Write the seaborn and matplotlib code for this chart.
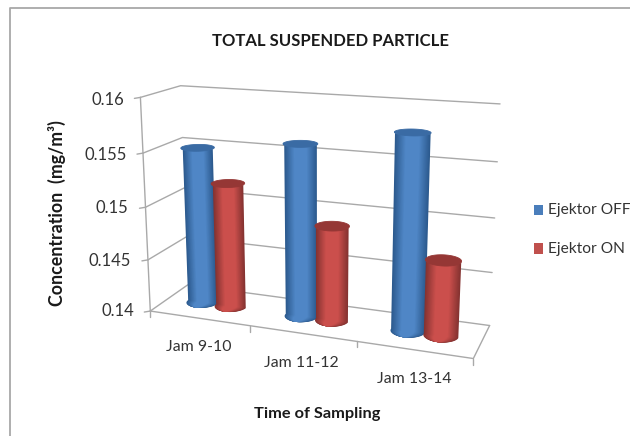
import numpy as np
import seaborn as sns
import matplotlib
matplotlib.use('Agg')
import matplotlib.pyplot as plt
from matplotlib.patches import Polygon, Rectangle

categories = ['Jam 9-10', 'Jam 11-12', 'Jam 13-14']
ejektor_off = [0.1550, 0.1561, 0.1578]
ejektor_on = [0.1519, 0.1489, 0.1469]
y_ticks = [0.14, 0.145, 0.15, 0.155, 0.16]
y_labels = ['0.14', '0.145', '0.15', '0.155', '0.16']

sns.set_style('white')
plt.rcParams['font.family'] = ['Lato', 'DejaVu Sans']

# 3d box corners (category, depth, level) and where they land in the image
box = [(0, 0, 0), (3, 0, 0), (0, 1, 0), (3, 1, 0), (0, 0, 1), (0, 1, 1), (3, 1, 1)]
img = [(151, 311), (473, 359), (187, 285), (490, 325), (140, 97), (181, 86), (500, 104)]
rows = []
for (a, b, c), (px, py) in zip(box, img):
    rows.append([a, b, c, 1, 0, 0, 0, 0, -px * a, -px * b, -px * c, -px])
    rows.append([0, 0, 0, 0, a, b, c, 1, -py * a, -py * b, -py * c, -py])
P = np.linalg.svd(np.array(rows, float))[2][-1].reshape(3, 4)


def project(u, d, v):
    u, d, v = np.broadcast_arrays(u, d, v)
    q = P @ np.vstack([u.ravel(), d.ravel(), v.ravel(), np.ones(u.size)])
    return q[0] / q[2], q[1] / q[2]


def level(val):
    return (val - y_ticks[0]) / (y_ticks[-1] - y_ticks[0])


def line3d(ax, us, ds, vs, lw=1.0):
    x, y = project(np.array(us, float), np.array(ds, float), np.array(vs, float))
    sns.lineplot(x=x, y=y, sort=False, estimator=None, color='#a9a9a9', linewidth=lw, ax=ax, legend=False)


def cylinder(ax, u, val, edge, mid, top, rad_u=0.152, rad_d=0.2, depth=0.5):
    v = level(val)
    angles = np.linspace(np.pi, 2 * np.pi, 61)
    # nested shells from the rim inwards give the round shading
    scales = np.linspace(1, 0.4, 14)
    shades = sns.blend_palette([edge, mid], 14)
    for s, col in zip(scales, shades):
        cu = u + s * rad_u * np.cos(angles)
        cd = depth + (0.97 + 0.03 * s) * rad_d * np.sin(angles)
        bx, by = project(cu, cd, 0.0)
        tx, ty = project(cu, cd, v)
        ax.add_patch(Polygon(np.r_[np.c_[bx, by], np.c_[tx, ty][::-1]], facecolor=col, lw=0, zorder=3))
    whole = np.linspace(0, 2 * np.pi, 60)
    ex, ey = project(u + rad_u * np.cos(whole), depth + rad_d * np.sin(whole), v)
    ax.add_patch(Polygon(np.c_[ex, ey], facecolor=top, edgecolor=top, lw=0.6, zorder=3))


fig = plt.figure(figsize=(6.3, 4.36), dpi=100)
ax = fig.add_axes([0, 0, 1, 1])
ax.set_xlim(0, 630)
ax.set_ylim(436, 0)
ax.axis('off')

# chart frame, cut off at the bottom and right of the screenshot
ax.plot([10, 10, 630], [436, 8, 8], color='#a8a8a8', lw=1.3)

# walls, floor and ticks
for t in y_ticks:
    v = level(t)
    line3d(ax, [0, 0, 3], [0, 1, 1], [v, v, v])
    x0, y0 = project(0.0, 0.0, v)
    ax.plot([x0 - 6, x0], [y0 + 1, y0], color='#a9a9a9', lw=1)
line3d(ax, [0, 0], [0, 0], [0, 1])
line3d(ax, [0, 3, 3], [0, 0, 1], [0, 0, 0])
for i in range(4):
    x0, y0 = project(float(i), 0.0, 0.0)
    ax.plot([x0, x0], [y0, y0 + 6], color='#a9a9a9', lw=1)

for i in range(len(categories)):
    cylinder(ax, i + 0.35, ejektor_off[i], '#2c5a8e', '#4f86c6', '#3a6ba4')
    cylinder(ax, i + 0.645, ejektor_on[i], '#853331', '#cb4f4c', '#953735')

title_font = dict(fontweight='bold', color='#1a1a1a', ha='center', va='center')
ax.text(330, 41, 'TOTAL SUSPENDED PARTICLE', fontsize=12, **title_font)
ax.text(317, 414, 'Time of Sampling', fontsize=11.8, **title_font)
ax.text(57, 213, 'Concentration  (mg/m³)', fontsize=12.8, rotation=90, **title_font)

tick_x = [134, 131, 128, 127, 124]
tick_y = [311, 261, 208, 155, 100]
for lab, x, y in zip(y_labels, tick_x, tick_y):
    ax.text(x, y, lab, fontsize=12, color='#333333', ha='right', va='center')
label_pos = [(199, 347), (301, 363), (414, 379)]
for lab, (x, y) in zip(categories, label_pos):
    ax.text(x, y, lab, fontsize=11.4, color='#333333', ha='center', va='center')

ax.add_patch(Rectangle((534, 205), 9, 10, facecolor='#4a7ebb', lw=0))
ax.add_patch(Rectangle((534, 243), 9, 11, facecolor='#c0504d', lw=0))
ax.text(548, 210, 'Ejektor OFF', fontsize=11.2, color='#333333', va='center')
ax.text(548, 249, 'Ejektor ON', fontsize=11.2, color='#333333', va='center')

fig.savefig('out.png', dpi=100)
